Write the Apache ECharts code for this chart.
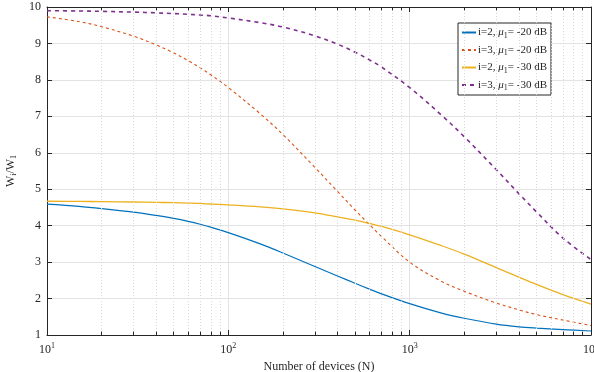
<!DOCTYPE html>
<html>
<head>
<meta charset="utf-8">
<script src="https://cdn.jsdelivr.net/npm/echarts@6/dist/echarts.min.js"></script>
<style>
  html, body { margin: 0; padding: 0; background: #fff; }
  #myChart { width: 594px; height: 372px; }
</style>
</head>
<body>
<div id="myChart"></div>
<script>
  // number of devices (x, log scale)
  var devices = [10, 15, 20, 30, 40, 50, 60, 70, 80, 100, 150, 200, 300, 400, 500, 600, 700,
                 1000, 1500, 2000, 3000, 4000, 5000, 7000, 10000];
  // W_i / W_1
  var i2mu20 = [4.59, 4.53, 4.47, 4.37, 4.28, 4.20, 4.12, 4.04, 3.96, 3.81, 3.50, 3.25, 2.88, 2.62,
                2.42, 2.26, 2.13, 1.86, 1.60, 1.46, 1.30, 1.225, 1.19, 1.15, 1.11];
  var i3mu20 = [9.73, 9.60, 9.46, 9.20, 8.96, 8.74, 8.53, 8.33, 8.14, 7.79, 7.07, 6.50, 5.60, 4.94,
                4.43, 4.03, 3.70, 3.00, 2.47, 2.20, 1.88, 1.69, 1.56, 1.41, 1.26];
  var i2mu30 = [4.67, 4.665, 4.66, 4.65, 4.64, 4.63, 4.62, 4.61, 4.595, 4.57, 4.515, 4.46, 4.35, 4.24,
                4.15, 4.06, 3.98, 3.75, 3.45, 3.22, 2.85, 2.59, 2.39, 2.11, 1.85];
  var i3mu30 = [9.90, 9.89, 9.88, 9.86, 9.84, 9.82, 9.80, 9.78, 9.76, 9.70, 9.57, 9.45, 9.21, 8.98,
                8.76, 8.55, 8.35, 7.79, 7.03, 6.44, 5.54, 4.88, 4.38, 3.66, 3.07];
  var seriesNames = ['i=2, mu20', 'i=3, mu20', 'i=2, mu30', 'i=3, mu30'];
  var legendLabels = {
    'i=2, mu20': 'i=2, {mu|μ}{sub|1}= -20 dB',
    'i=3, mu20': 'i=3, {mu|μ}{sub|1}= -20 dB',
    'i=2, mu30': 'i=2, {mu|μ}{sub|1}= -30 dB',
    'i=3, mu30': 'i=3, {mu|μ}{sub|1}= -30 dB'
  };
  var yTicks = [1, 2, 3, 4, 5, 6, 7, 8, 9, 10];
  var minorTicks = [20, 30, 40, 50, 60, 70, 80, 90, 200, 300, 400, 500, 600, 700, 800, 900,
                    2000, 3000, 4000, 5000, 6000, 7000, 8000, 9000];

  var font = 'Liberation Serif';
  var ink = '#262626';

  function pairs(ys) {
    return devices.map(function (x, k) { return [x, ys[k]]; });
  }

  var minorGrid = minorTicks.map(function (x) { return { xAxis: x }; });
  var minorTickMarks = [];
  minorTicks.forEach(function (x) {
    minorTickMarks.push([{ coord: [x, 1] }, { coord: [x, 1.09] }]);
    minorTickMarks.push([{ coord: [x, 10] }, { coord: [x, 9.91] }]);
  });

  var myChart = echarts.init(document.getElementById('myChart'));
  myChart.setOption({
    animation: false,
    textStyle: { fontFamily: font },
    grid: { left: 47, right: 3, top: 7, bottom: 37, outerBoundsMode: 'none', containLabel: false },
    legend: {
      data: seriesNames,
      orient: 'vertical',
      left: 458,
      top: 23,
      padding: [4, 4, 3, 3],
      itemGap: 5,
      itemWidth: 14,
      itemHeight: 13,
      backgroundColor: '#fff',
      borderColor: ink,
      borderWidth: 1,
      itemStyle: { opacity: 0 },
      formatter: function (name) { return legendLabels[name]; },
      textStyle: {
        fontFamily: font,
        fontSize: 11,
        color: ink,
        padding: [0, 0, 0, -3],
        rich: {
          mu: { fontFamily: font, fontSize: 11, fontStyle: 'italic', color: ink },
          sub: { fontFamily: font, fontSize: 8, color: ink, padding: [6, 0, 0, 0] }
        }
      }
    },
    xAxis: [
      {
        type: 'log',
        logBase: 10,
        min: 10,
        max: 10000,
        name: 'Number of devices (N)',
        nameLocation: 'middle',
        nameGap: 24,
        nameTextStyle: { fontFamily: font, fontSize: 12, color: ink },
        axisLine: { show: true, onZero: false, lineStyle: { color: ink, width: 1 } },
        axisTick: { show: true, inside: true, length: 5, lineStyle: { color: ink } },
        splitLine: { show: true, lineStyle: { color: '#e3e3e3', width: 1 } },
        axisLabel: {
          margin: 7,
          color: ink,
          formatter: function (v) {
            return '{b|10}{s|' + Math.round(Math.log10(v)) + '}';
          },
          rich: {
            b: { fontFamily: font, fontSize: 12, color: ink },
            s: { fontFamily: font, fontSize: 8, color: ink, padding: [0, 0, 7, 0] }
          }
        }
      },
      {
        type: 'log',
        logBase: 10,
        min: 10,
        max: 10000,
        position: 'top',
        axisLine: { show: true, onZero: false, lineStyle: { color: ink, width: 1 } },
        axisTick: { show: true, inside: true, length: 5, lineStyle: { color: ink } },
        axisLabel: { show: false },
        splitLine: { show: false }
      }
    ],
    yAxis: [
      {
        type: 'value',
        min: 1,
        max: 10,
        interval: 1,
        name: 'W{sub|i}/W{sub|1}',
        nameLocation: 'middle',
        nameGap: 28,
        nameRotate: 90,
        nameTextStyle: {
          fontFamily: font, fontSize: 12, color: ink,
          rich: { sub: { fontFamily: font, fontSize: 8, color: ink, padding: [7, 0, 0, 0] } }
        },
        axisLine: { show: true, onZero: false, lineStyle: { color: ink, width: 1 } },
        axisTick: { show: true, inside: true, length: 5, lineStyle: { color: ink } },
        splitLine: { show: true, lineStyle: { color: '#e3e3e3', width: 1 } },
        axisLabel: {
          margin: 6,
          color: ink,
          fontFamily: font,
          fontSize: 12,
          formatter: function (v) { return yTicks.indexOf(v) >= 0 ? String(v) : ''; }
        }
      },
      {
        type: 'value',
        min: 1,
        max: 10,
        interval: 1,
        position: 'right',
        axisLine: { show: true, onZero: false, lineStyle: { color: ink, width: 1 } },
        axisTick: { show: true, inside: true, length: 5, lineStyle: { color: ink } },
        axisLabel: { show: false },
        splitLine: { show: false }
      }
    ],
    series: [
      {
        name: 'minor-grid',
        type: 'line',
        data: [],
        silent: true,
        markLine: {
          silent: true,
          symbol: ['none', 'none'],
          label: { show: false },
          lineStyle: { type: [1, 2], color: '#dadada', width: 1 },
          emphasis: { disabled: true },
          data: minorGrid
        }
      },
      {
        name: 'minor-ticks',
        type: 'line',
        data: [],
        silent: true,
        markLine: {
          silent: true,
          symbol: ['none', 'none'],
          label: { show: false },
          lineStyle: { type: 'solid', color: ink, width: 1 },
          emphasis: { disabled: true },
          data: minorTickMarks
        }
      },
      {
        name: seriesNames[0],
        type: 'line',
        smooth: 0.35,
        symbol: 'none',
        data: pairs(i2mu20),
        lineStyle: { color: '#0072BD', width: 1.2 },
        itemStyle: { color: '#0072BD' }
      },
      {
        name: seriesNames[1],
        type: 'line',
        smooth: 0.35,
        symbol: 'none',
        data: pairs(i3mu20),
        lineStyle: { color: '#D95319', width: 1.1, type: [3, 3] },
        itemStyle: { color: '#D95319' }
      },
      {
        name: seriesNames[2],
        type: 'line',
        smooth: 0.35,
        symbol: 'none',
        data: pairs(i2mu30),
        lineStyle: { color: '#EDB120', width: 1.3 },
        itemStyle: { color: '#EDB120' }
      },
      {
        name: seriesNames[3],
        type: 'line',
        smooth: 0.35,
        symbol: 'none',
        data: pairs(i3mu30),
        lineStyle: { color: '#7E2F8E', width: 1.6, type: [4, 4] },
        itemStyle: { color: '#7E2F8E' }
      }
    ]
  });
</script>
</body>
</html>
